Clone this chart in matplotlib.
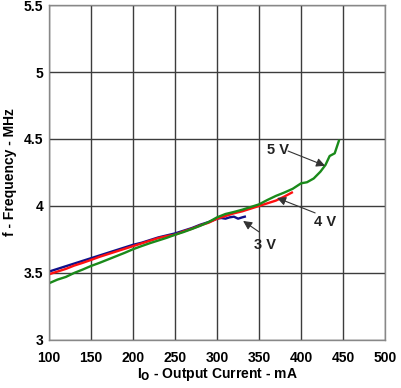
import matplotlib
matplotlib.use('Agg')
import matplotlib.pyplot as plt

plt.rcParams['font.family'] = ['Liberation Sans', 'DejaVu Sans']
plt.rcParams['font.weight'] = 'bold'

# ---------------------------
# Daten
# ---------------------------
io_3v = [100, 110, 120, 130, 140, 150, 160, 170, 180, 190, 200, 210, 220, 230, 240,
         250, 260, 270, 280, 290, 300, 305, 310, 315, 320, 325, 330, 333]
f_3v = [3.51, 3.53, 3.55, 3.57, 3.59, 3.61, 3.63, 3.65, 3.67, 3.69, 3.71, 3.725, 3.745, 3.765, 3.78,
        3.795, 3.815, 3.835, 3.86, 3.88, 3.905, 3.91, 3.905, 3.915, 3.92, 3.905, 3.915, 3.92]

io_4v = [100, 110, 120, 130, 140, 150, 160, 170, 180, 190, 200, 210, 220, 230, 240,
         250, 260, 270, 280, 290, 300, 310, 320, 330, 340, 350, 360, 370, 380, 389]
f_4v = [3.49, 3.51, 3.53, 3.555, 3.575, 3.597, 3.62, 3.64, 3.66, 3.68, 3.70, 3.72, 3.74, 3.76, 3.775,
        3.785, 3.81, 3.83, 3.855, 3.875, 3.905, 3.925, 3.945, 3.96, 3.98, 4.0, 4.02, 4.04, 4.07, 4.10]

io_5v = [100, 110, 120, 130, 140, 150, 160, 170, 180, 190, 200, 210, 220, 230, 240,
         250, 260, 270, 280, 290, 300, 310, 320, 330, 340, 350, 360, 370, 380, 390,
         400, 407, 415, 423, 429, 434, 440, 445]
f_5v = [3.423, 3.45, 3.47, 3.50, 3.525, 3.552, 3.575, 3.60, 3.625, 3.65, 3.677, 3.70, 3.722, 3.742, 3.762,
        3.785, 3.805, 3.828, 3.852, 3.88, 3.915, 3.94, 3.955, 3.972, 3.992, 4.012, 4.045, 4.075, 4.1, 4.128,
        4.169, 4.177, 4.205, 4.256, 4.306, 4.373, 4.393, 4.487]

x_ticks = [100, 150, 200, 250, 300, 350, 400, 450, 500]
y_ticks = [3, 3.5, 4, 4.5, 5, 5.5]

# ---------------------------
# Diagramm
# ---------------------------
fig = plt.figure(figsize=(4.02, 3.88), dpi=100)
ax = fig.add_axes([0.122, 0.124, 0.836, 0.863])

ax.plot(io_3v, f_3v, color='#10108a', linewidth=1.7)
ax.plot(io_4v, f_4v, color='#ff1010', linewidth=1.7)
ax.plot(io_5v, f_5v, color='#1a8a1a', linewidth=1.7)

ax.set_xlim(100, 500)
ax.set_ylim(3, 5.5)
ax.set_xticks(x_ticks)
ax.set_yticks(y_ticks)
ax.set_yticklabels(['3', '3.5', '4', '4.5', '5', '5.5'])
ax.tick_params(length=0, labelsize=10)
ax.tick_params(axis='x', pad=8)
ax.tick_params(axis='y', pad=4)
ax.grid(True, color='#3c3c3c', linewidth=1.0)
ax.set_axisbelow(True)
for s in ax.spines.values():
    s.set_color('#888888')
    s.set_linewidth(1.0)

ax.set_xlabel(r'I$_\mathbf{O}$ - Output Current - mA', fontsize=10, fontweight='bold', labelpad=1)
ax.set_ylabel('f - Frequency - MHz', fontsize=10, fontweight='bold', labelpad=5)

pfeil = dict(arrowstyle='-|>', color='#333333', lw=0.8, mutation_scale=13,
             shrinkA=0, shrinkB=0)
ax.annotate('', xy=(428.6, 4.30), xytext=(384.5, 4.41), arrowprops=pfeil)
ax.annotate('', xy=(371.4, 4.06), xytext=(416.7, 3.948), arrowprops=pfeil)
ax.annotate('', xy=(331, 3.888), xytext=(350, 3.806), arrowprops=pfeil)
ax.text(372.6, 4.418, '5 V', fontsize=10.5, fontweight='bold', color='#222222', ha='center', va='center')
ax.text(428.6, 3.88, '4 V', fontsize=10.5, fontweight='bold', color='#222222', ha='center', va='center')
ax.text(357, 3.71, '3 V', fontsize=10.5, fontweight='bold', color='#222222', ha='center', va='center')

fig.savefig('out.png', dpi=100)
